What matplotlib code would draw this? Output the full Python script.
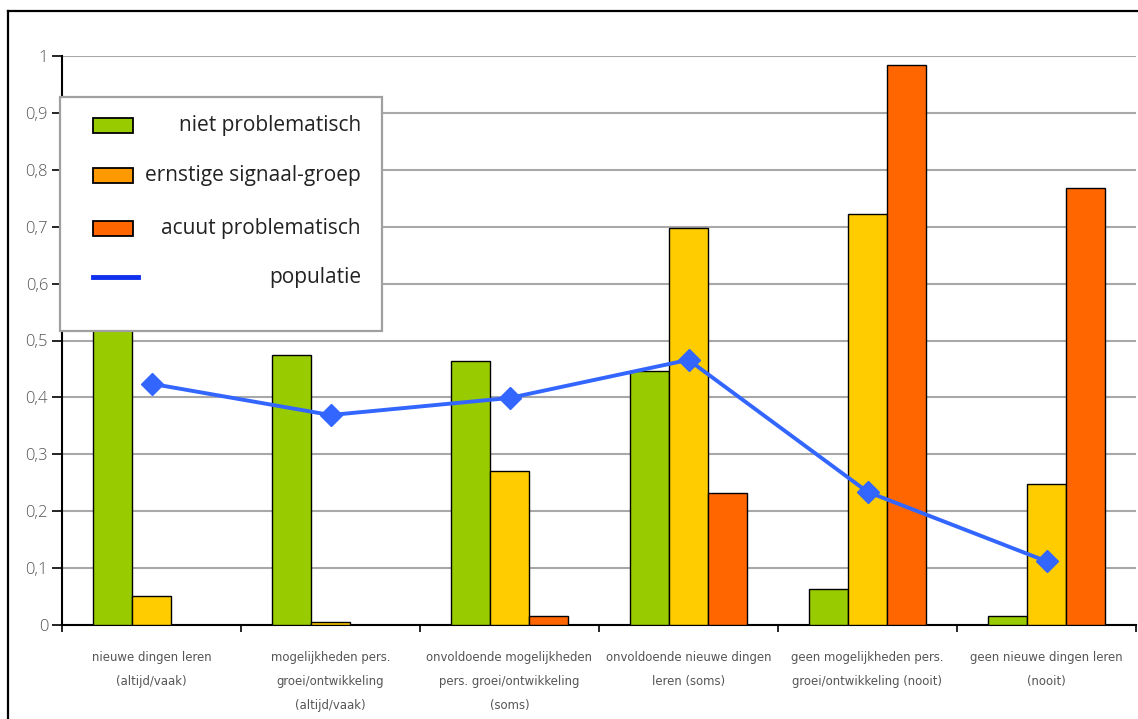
import matplotlib
matplotlib.use("Agg")
import matplotlib.pyplot as plt
import numpy as np
from matplotlib.patches import Rectangle
from matplotlib.lines import Line2D
from matplotlib.ticker import FixedLocator, FuncFormatter

categories = [
    "nieuwe dingen leren\n(altijd/vaak)",
    "mogelijkheden pers.\ngroei/ontwikkeling\n(altijd/vaak)",
    "onvoldoende mogelijkheden\npers. groei/ontwikkeling\n(soms)",
    "onvoldoende nieuwe dingen\nleren (soms)",
    "geen mogelijkheden pers.\ngroei/ontwikkeling (nooit)",
    "geen nieuwe dingen leren\n(nooit)",
]
niet_problematisch = [0.58, 0.474, 0.464, 0.446, 0.063, 0.016]
ernstige_signaal = [0.051, 0.005, 0.271, 0.697, 0.722, 0.248]
acuut_problematisch = [0.0, 0.0, 0.016, 0.232, 0.984, 0.768]
populatie = [0.424, 0.369, 0.399, 0.466, 0.234, 0.112]
series_names = ["niet problematisch", "ernstige signaal-groep",
                "acuut problematisch", "populatie"]

W, H = 1138, 719
fig = plt.figure(figsize=(W / 100, H / 100), dpi=100)
fig.patch.set_facecolor("white")


def fx(x):
    return x / W


def fy(y):
    return 1 - y / H


ax = fig.add_axes([fx(62), fy(625), (1136 - 62) / W, (625 - 56) / H])

x = np.arange(len(categories))
bw = 0.218
bar_kw = dict(edgecolor="black", linewidth=1.0, zorder=3)
ax.bar(x - bw, niet_problematisch, bw, color="#99CC00", **bar_kw)
ax.bar(x, ernstige_signaal, bw, color="#FFCC00", **bar_kw)
ax.bar(x + bw, acuut_problematisch, bw, color="#FF6600", **bar_kw)
ax.plot(x, populatie, color="#3366FF", lw=2.8, marker="D", markersize=11.5,
        markeredgecolor="#3366FF", zorder=5)

ax.set_xlim(-0.5, len(categories) - 0.5)
ax.set_ylim(0, 1)

# y axis
yt = np.round(np.arange(0, 1.01, 0.1), 1)
ax.set_yticks(yt)
ax.yaxis.set_major_formatter(FuncFormatter(
    lambda v, p: "0" if v == 0 else ("1" if v == 1 else f"{v:.1f}".replace(".", ","))))
ax.tick_params(axis="y", direction="out", length=7, width=1.2, color="black",
               pad=3, labelsize=12, labelcolor="#555555")
for lab in ax.get_yticklabels():
    lab.set_fontfamily(["Open Sans", "DejaVu Sans"])
    lab.set_fontweight("light")
ax.yaxis.grid(True, color="#A8A8A8", linewidth=1.5, zorder=0)
ax.set_axisbelow(True)

# x axis: labels at group centres, ticks at group boundaries
ax.xaxis.set_major_locator(FixedLocator(x))
ax.set_xticklabels(categories, fontsize=9.4, color="#555555",
                   family=["DejaVu Sans", "Liberation Sans"], fontstretch="condensed",
                   linespacing=2.1, va="top")
ax.xaxis.set_minor_locator(FixedLocator(np.arange(-0.5, len(categories), 1.0)))
ax.tick_params(axis="x", which="major", length=0, pad=19)
ax.tick_params(axis="x", which="minor", direction="out", length=5, width=1.2,
               color="black")

for s in ("top", "right"):
    ax.spines[s].set_visible(False)
for s in ("left", "bottom"):
    ax.spines[s].set_color("black")
    ax.spines[s].set_linewidth(1.5)

# outer chart frame
fig.add_artist(Line2D([fx(8), fx(8)], [fy(11), fy(H + 5)], color="black", lw=1.6))
fig.add_artist(Line2D([fx(8), fx(W + 5)], [fy(11), fy(11)], color="black", lw=1.6))

# legend box
fig.add_artist(Rectangle((fx(60), fy(331)), (382 - 60) / W, (331 - 97) / H,
                         transform=fig.transFigure, facecolor="white",
                         edgecolor="#A0A0A0", linewidth=1.6, zorder=10))
legend_colors = ["#99CC00", "#FF9900", "#FF6600"]
legend_rows = [125.5, 175.5, 228.5, 277]
for name, c, yc in zip(series_names[:3], legend_colors, legend_rows[:3]):
    fig.add_artist(Rectangle((fx(93), fy(yc + 7.5)), 40 / W, 15 / H,
                             transform=fig.transFigure, facecolor=c,
                             edgecolor="black", linewidth=1.3, zorder=11))
fig.add_artist(Line2D([fx(93), fx(138)], [fy(legend_rows[3]), fy(legend_rows[3])],
                      color="#1030F0", lw=3.5, zorder=11))
for name, yc in zip(series_names, legend_rows):
    fig.text(fx(361), fy(yc), name, ha="right", va="center", fontsize=15,
             family=["Open Sans", "DejaVu Sans"], color="#222222", zorder=12)

fig.savefig("out.png", dpi=100)
